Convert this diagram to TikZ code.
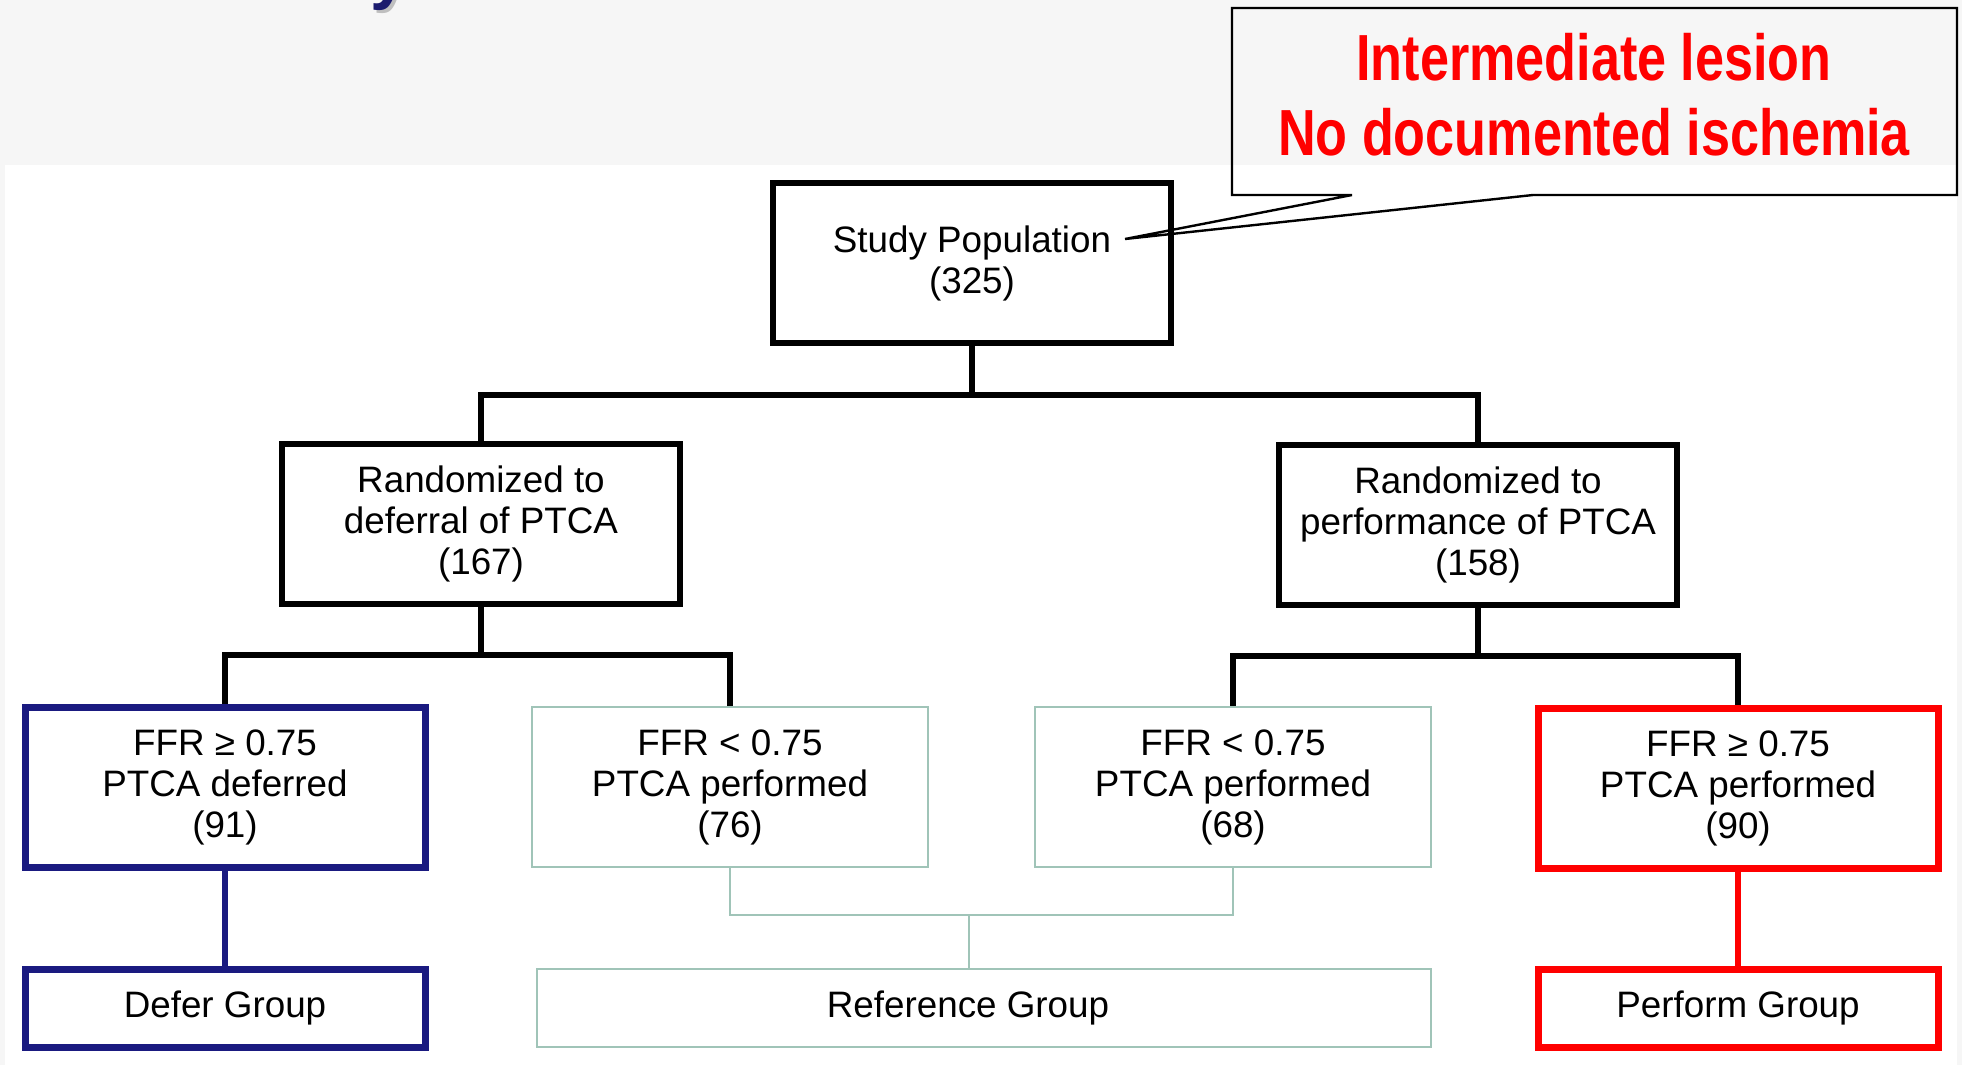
\documentclass[tikz,border=0pt]{standalone}
\usepackage{fontspec}
\setmainfont{Liberation Sans}
\newfontfamily\calloutfont{Liberation Sans}[FakeStretch=0.8]
\definecolor{bggray}{RGB}{246,246,246}
\definecolor{defblue}{RGB}{26,26,128}
\definecolor{refgreen}{RGB}{160,196,184}
\definecolor{titlenavy}{RGB}{27,27,110}
\begin{document}
\begin{tikzpicture}[x=0.5pt, y=-0.5pt,
		box/.style={draw=black, line width=3pt, fill=white, minimum width=199pt, minimum height=80pt, inner sep=0pt, align=center, font=\fontsize{18.4}{20.5}\selectfont},
		grpbox/.style={box, minimum height=39pt},
		refbox/.style={draw=refgreen, line width=1.3pt},
		conn/.style={line width=3pt}]
		\useasboundingbox (0,0) rectangle (1962,1065);
		\fill[bggray] (0,0) rectangle (1962,1065);
		\clip (0,0) rectangle (1962,1065);
		\fill[white] (5,165) rectangle (1957,1065);
		\node[anchor=base east, text=gray!50, font=\fontsize{34}{36}\bfseries] at (418,0) {DEFER Study};
		\node[anchor=base east, text=titlenavy, font=\fontsize{34}{36}\bfseries] (title) at (415,-3) {DEFER Study};
		\node[box] (pop) at (972,263) {Study Population\\(325)};
		\node[box] (randL) at (481,524) {Randomized to\\deferral of PTCA\\(167)};
		\node[box] (randR) at (1478,525) {Randomized to\\performance of PTCA\\(158)};
		\node[box, draw=defblue, line width=3.5pt, minimum width=200pt] (ffrDefer) at (225,787) {FFR ≥ 0.75\\PTCA deferred\\(91)};
		\node[box, refbox, minimum width=198pt] (ffrLowL) at (730,787) {FFR < 0.75\\PTCA performed\\(76)};
		\node[box, refbox, minimum width=198pt] (ffrLowR) at (1233,787) {FFR < 0.75\\PTCA performed\\(68)};
		\node[box, draw=red, line width=3.5pt, minimum width=200pt] (ffrPerf) at (1738,788) {FFR ≥ 0.75\\PTCA performed\\(90)};
		\node[grpbox, draw=defblue, line width=3.5pt, minimum width=200pt] (deferGrp) at (225,1008) {Defer Group};
		\node[grpbox, refbox, minimum width=447pt] (refGrp) at (984,1008) {\hspace*{-16pt}Reference Group};
		\node[grpbox, draw=red, line width=3.5pt, minimum width=200pt] (perfGrp) at (1738,1008) {Perform Group};
		\coordinate (popJ) at (pop.south |- 0,395);
		\coordinate (leftJ) at (randL.south |- 0,655);
		\coordinate (rightJ) at (randR.south |- 0,656);
		\coordinate (refJ) at (969,915);
		\draw[conn] (pop.south) -- (popJ);
		\draw[conn] (randL.north) |- (popJ) -| (randR.north);
		\draw[conn] (randL.south) -- (leftJ);
		\draw[conn] (ffrDefer.north) |- (leftJ) -| (ffrLowL.north);
		\draw[conn] (randR.south) -- (rightJ);
		\draw[conn] (ffrLowR.north) |- (rightJ) -| (ffrPerf.north);
		\draw[refbox] (ffrLowL.south) |- (refJ) -| (ffrLowR.south);
		\draw[refbox] (refJ) -- (refJ |- refGrp.north);
		\draw[conn, defblue] (ffrDefer.south) -- (deferGrp.north);
		\draw[conn, red] (ffrPerf.south) -- (perfGrp.north);
		\draw[line width=1.2pt] (1232,8) -- (1957,8) -- (1957,195) -- (1533,195) -- (1125,239) -- (1352,195) -- (1232,195) -- cycle;
		\node[text=red, align=center, font=\calloutfont\bfseries\fontsize{32.6}{37.5}\selectfont] (callout) at (1594,95) {Intermediate lesion\\No documented ischemia};
		\end{tikzpicture}
\end{document}
